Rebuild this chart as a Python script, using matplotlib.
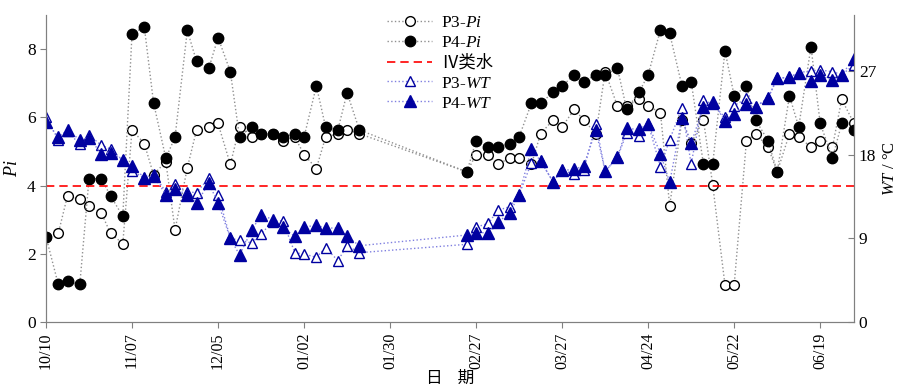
import matplotlib
matplotlib.use("Agg")
import matplotlib.pyplot as plt
import numpy as np

plt.rcParams['font.family'] = ['Liberation Serif', 'Noto Sans CJK SC', 'DejaVu Sans']
plt.rcParams['mathtext.fontset'] = 'custom'
plt.rcParams['mathtext.rm'] = 'Liberation Serif'
plt.rcParams['mathtext.it'] = 'Liberation Serif:italic'

# sampling day offsets from 10/10
days = [0, 4, 7, 11, 14, 18, 21, 25, 28, 32, 35, 39, 42, 46, 49, 53, 56, 60, 63, 67,
        70, 74, 77, 81, 84, 88, 91, 95, 98, 102,
        137, 140, 144, 147, 151, 154, 158, 161, 165, 168, 172, 175, 179, 182, 186, 189,
        193, 196, 200, 203, 207, 210, 214, 217, 221, 224, 228, 231, 235, 238, 242, 245,
        249, 252, 256, 259, 263]

p3_pi = [2.5, 2.6, 3.7, 3.6, 3.4, 3.2, 2.6, 2.3, 5.63, 5.23, 4.32, 4.7, 2.7, 4.52, 5.63,
         5.72, 5.82, 4.62, 5.72, 5.42, 5.5, 5.5, 5.32, 5.42, 4.91, 4.5, 5.42, 5.52, 5.63, 5.52,
         4.4, 4.91, 4.91, 4.62, 4.81, 4.81, 4.62, 5.52, 5.92, 5.72, 6.24, 5.92, 5.52, 7.34,
         6.33, 6.33, 6.53, 6.33, 6.14, 3.41, 5.92, 5.25, 5.92, 4.03, 1.09, 1.09, 5.32, 5.52,
         5.13, 4.4, 5.52, 5.42, 5.13, 5.32, 5.13, 6.53, 5.82]

p4_pi = [2.5, 1.1, 1.2, 1.1, 4.2, 4.2, 3.7, 3.1, 8.45, 8.65, 6.43, 4.8, 5.42, 8.55, 7.64,
         7.44, 8.34, 7.34, 5.42, 5.72, 5.52, 5.52, 5.42, 5.52, 5.42, 6.92, 5.72, 5.63, 6.72, 5.63,
         4.4, 5.32, 5.13, 5.13, 5.23, 5.43, 6.41, 6.41, 6.73, 6.92, 7.25, 7.05, 7.25, 7.25,
         7.44, 6.24, 6.73, 7.25, 8.56, 8.46, 6.92, 7.05, 4.62, 4.62, 7.95, 6.63, 6.92, 5.92,
         5.32, 4.4, 6.63, 5.72, 8.07, 5.82, 4.81, 5.82, 5.63]

p3_wt = [22.0, 19.6, 20.5, 19.1, 20.1, 19.0, 18.6, 17.4, 16.2, 15.5, 15.9, 14.0, 14.8, 14.0,
         13.9, 15.5, 13.7, 9.0, 8.8, 8.5, 9.5, 10.8, 10.9, 7.45, 7.3, 6.96, 8.0, 6.6, 8.2, 7.45,
         8.35, 10.2, 10.6, 12.0, 12.4, 13.7, 17.1, 17.3, 15.1, 16.3, 15.9, 16.3, 21.3, 16.2,
         17.7, 20.3, 20.0, 21.3, 16.7, 19.6, 23.0, 17.0, 23.9, 23.4, 22.0, 23.25, 24.05, 23.15,
         24.05, 26.2, 26.3, 26.8, 27.0, 27.1, 26.9, 26.6, 27.6]

p4_wt = [21.5, 19.9, 20.6, 19.6, 19.8, 18.1, 18.2, 17.4, 16.8, 15.5, 15.7, 13.7, 14.3, 13.7,
         12.8, 14.9, 12.8, 9.0, 7.2, 9.9, 11.5, 11.0, 10.2, 9.2, 10.2, 10.4, 10.1, 10.1, 9.2, 8.2,
         9.35, 9.6, 9.6, 10.7, 11.75, 13.7, 18.6, 17.3, 15.1, 16.3, 16.4, 16.8, 20.6, 16.2,
         17.7, 20.8, 20.7, 21.3, 18.1, 15.0, 21.9, 19.2, 23.15, 23.7, 21.6, 22.4, 23.4, 23.15,
         24.05, 26.2, 26.3, 26.8, 25.9, 26.5, 26.0, 26.6, 28.3]

tick_days = [0, 28, 56, 84, 112, 140, 168, 196, 224, 252]
tick_labels = ['10/10', '11/07', '12/05', '01/02', '01/30', '02/27', '03/27', '04/24', '05/22', '06/19']
threshold = 4.0

fig = plt.figure(figsize=(8.98, 3.87), dpi=100)
ax = fig.add_axes([46/898, 1-322/387, (854-46)/898, (322-15)/387])
ax2 = ax.twinx()

blue = '#0000a0'
l1, = ax.plot(days, p3_pi, ls=':', color='#909090', lw=1.0, marker='o', ms=7,
              mfc='white', mec='black', mew=1.0, label='P3-$\\mathit{Pi}$')
l2, = ax.plot(days, p4_pi, ls=':', color='#909090', lw=1.0, marker='o', ms=7.5,
              mfc='black', mec='black', label='P4-$\\mathit{Pi}$')
l3 = ax.axhline(threshold, color='#ff0000', ls=(0, (5, 3)), lw=1.2, label='Ⅳ类水')
l4, = ax2.plot(days, p3_wt, ls=':', color='#8080e0', lw=1.0, marker='^', ms=7.5,
               mfc='white', mec=blue, mew=1.0, label='P3-$\\mathit{WT}$')
l5, = ax2.plot(days, p4_wt, ls=':', color='#8080e0', lw=1.0, marker='^', ms=8,
               mfc=blue, mec=blue, label='P4-$\\mathit{WT}$')

ax.set_xlim(0, 263)
ax.set_ylim(0, 9)
ax2.set_ylim(0, 33)
ax.set_yticks([0, 2, 4, 6, 8])
ax2.set_yticks([0, 9, 18, 27])
ax.set_xticks(tick_days)
ax.set_xticklabels(tick_labels, rotation=90, fontsize=11.5)
ax.tick_params(axis='y', labelsize=12.5, direction='out', color='#808080', length=4)
ax.tick_params(axis='x', direction='out', color='#808080', length=4)
ax2.tick_params(axis='y', labelsize=12.5, direction='in', color='#808080', length=4)

for a in (ax, ax2):
    a.spines['top'].set_visible(False)
    for s in ('left', 'right', 'bottom'):
        a.spines[s].set_color('#808080')

ax.set_ylabel('$\\mathit{Pi}$', fontsize=13, labelpad=4)
ax2.set_ylabel('$\\mathit{WT}$ / °C', fontsize=12, labelpad=4)
ax.set_xlabel('日    期', fontsize=12, labelpad=1, family=['Noto Sans CJK SC'])

leg = ax2.legend(handles=[l1, l2, l3, l4, l5], loc='upper left',
                 bbox_to_anchor=(375/898, 1 - 3/387), bbox_transform=fig.transFigure,
                 frameon=False, fontsize=12.5, handlelength=2.6, handletextpad=0.5,
                 labelspacing=0.22, borderpad=0.2)

fig.savefig('out.png', dpi=100)
